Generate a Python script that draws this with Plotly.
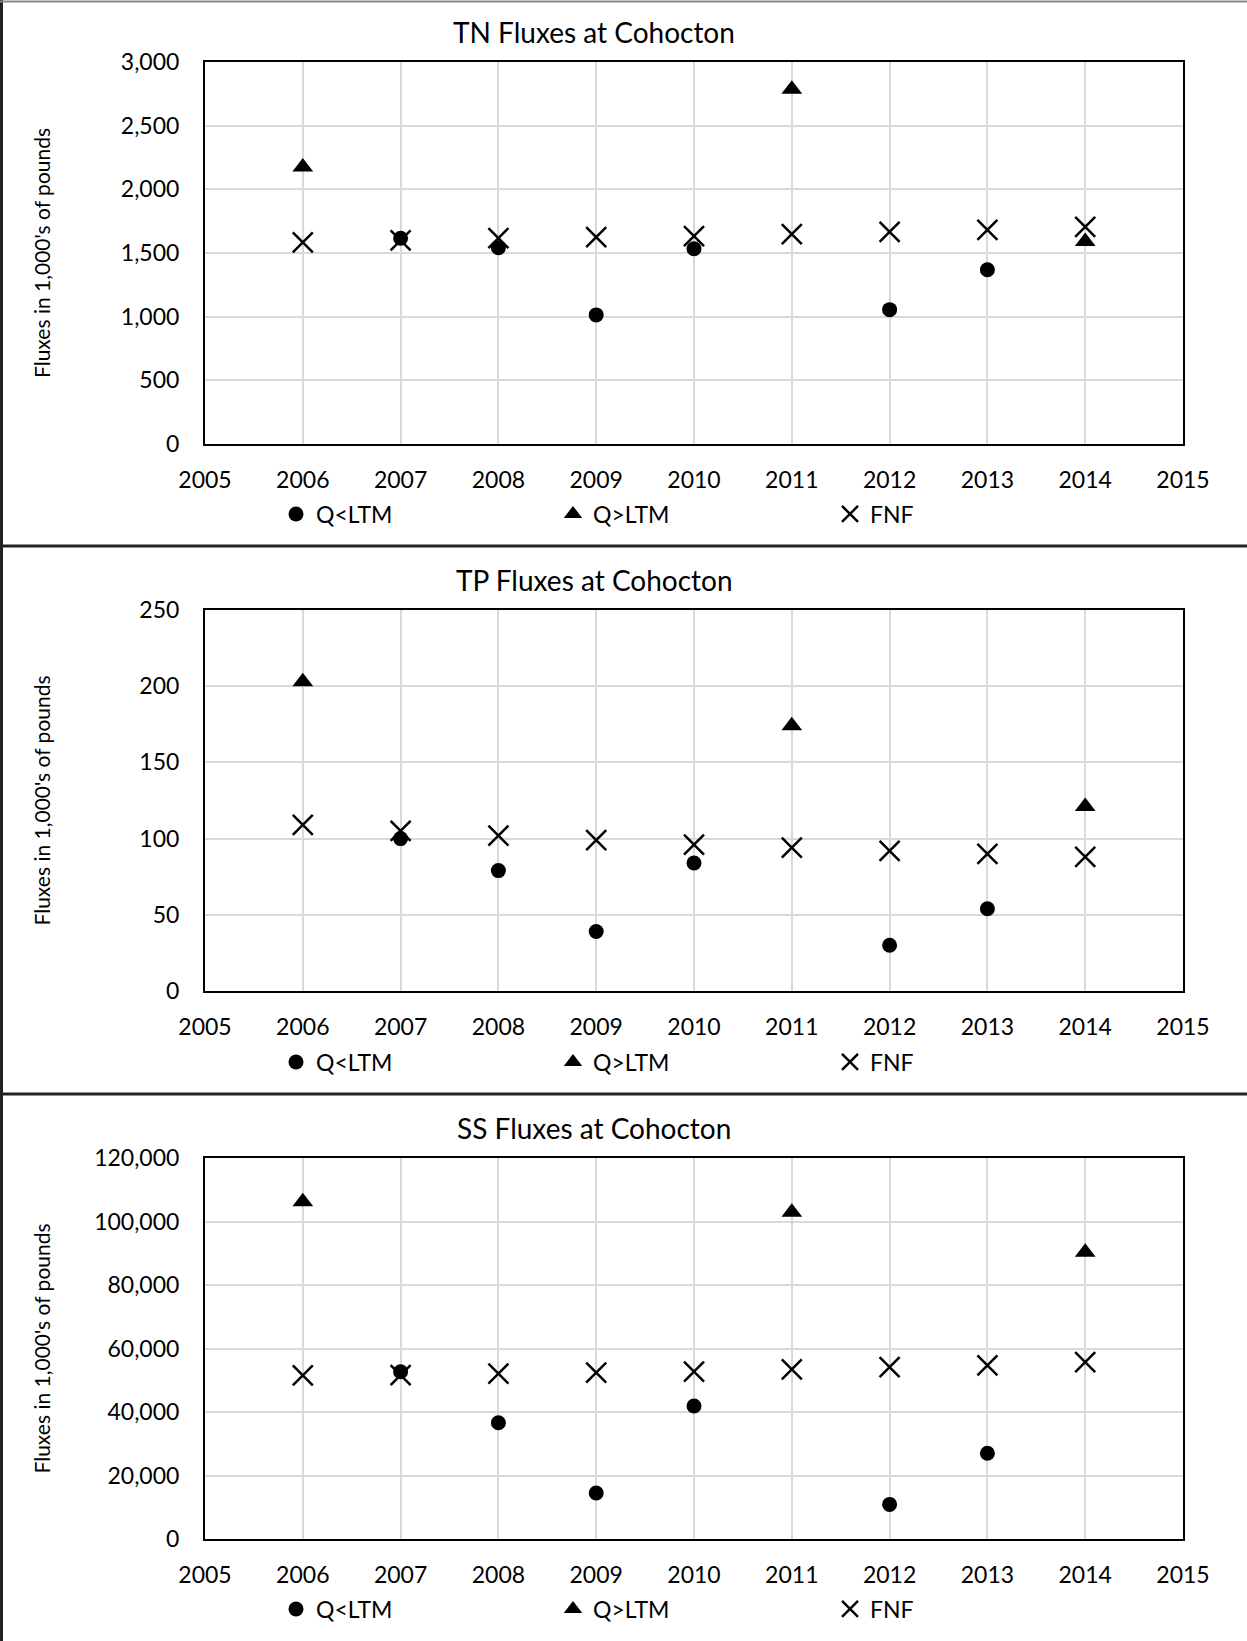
import plotly.graph_objects as go

# data
years = [2006, 2007, 2008, 2009, 2010, 2011, 2012, 2013, 2014]

low_years = [2007, 2008, 2009, 2010, 2012, 2013]
high_years = [2006, 2011, 2014]

tn_low = [1616, 1542, 1014, 1533, 1055, 1368]
tn_high = [2176, 2786, 1591]
tn_fnf = [1583, 1599, 1616, 1624, 1632, 1649, 1665, 1682, 1706]

tp_low = [100, 79, 39, 84, 30, 54]
tp_high = [203, 174, 121]
tp_fnf = [109, 105, 102, 99, 96, 94, 92, 90, 88]

ss_low = [52700, 36600, 14500, 41900, 10900, 27000]
ss_high = [106200, 102900, 90300]
ss_fnf = [51500, 51600, 52100, 52400, 52700, 53400, 54100, 54700, 55700]

titles = ['TN Fluxes at Cohocton', 'TP Fluxes at Cohocton', 'SS Fluxes at Cohocton']
y_ranges = [[0, 3000], [0, 250], [0, 120000]]
y_dticks = [500, 50, 20000]
y_title = "Fluxes in 1,000's of pounds"

W, H = 1247, 1641
FONT = 'Lato'

def px(y):
    return 1 - y / H

# plot areas in pixels (top, bottom) per panel
plot_rows = [(62, 444), (610, 991), (1158, 1539)]
title_y = [32, 580, 1128]
legend_y = [514, 1062, 1609]
x_left, x_right = 205, 1183

fig = go.Figure()
panels = [(tn_low, tn_high, tn_fnf), (tp_low, tp_high, tp_fnf), (ss_low, ss_high, ss_fnf)]

for i, (low, high, fnf) in enumerate(panels):
    n = '' if i == 0 else str(i + 1)
    leg = 'legend' + n
    xa, ya = 'x' + n, 'y' + n
    fig.add_trace(go.Scatter(x=low_years, y=low, mode='markers', name='Q<LTM',
                             xaxis=xa, yaxis=ya, legend=leg,
                             marker=dict(symbol='circle', size=15, color='black')))
    fig.add_trace(go.Scatter(x=high_years, y=high, mode='markers', name='Q>LTM',
                             xaxis=xa, yaxis=ya, legend=leg,
                             marker=dict(symbol='triangle-up', size=18, color='black')))
    fig.add_trace(go.Scatter(x=years, y=fnf, mode='markers', name='FNF',
                             xaxis=xa, yaxis=ya, legend=leg,
                             marker=dict(symbol='x-thin', size=20, color='black',
                                         line=dict(width=2.5, color='black'))))

    top, bot = plot_rows[i]
    axis_common = dict(showline=True, mirror=True, linecolor='black', linewidth=2,
                       showgrid=True, gridcolor='#d9d9d9', gridwidth=1.5,
                       zeroline=False, ticks='', automargin=False,
                       tickfont=dict(family=FONT, size=23, color='black'))
    fig.update_layout({
        'xaxis' + n: dict(axis_common, domain=[x_left / W, x_right / W], range=[2005, 2015],
                          dtick=1, tick0=2005, anchor=ya, ticklabelstandoff=14),
        'yaxis' + n: dict(axis_common, domain=[px(bot), px(top)], range=y_ranges[i],
                          dtick=y_dticks[i], tickformat=',d', anchor=xa,
                          ticklabelstandoff=19),
        leg: dict(orientation='h', x=(300 - 24) / W, xanchor='left', y=px(legend_y[i]),
                  yanchor='middle', entrywidth=232, entrywidthmode='pixels', itemwidth=30,
                  font=dict(family=FONT, size=23, color='black'), bgcolor='rgba(0,0,0,0)'),
    })

    fig.add_annotation(text=titles[i], xref='paper', yref='paper', x=594 / W, y=px(title_y[i]),
                       showarrow=False, xanchor='center', yanchor='middle',
                       font=dict(family=FONT, size=28, color='black'))
    fig.add_annotation(text=y_title, xref='paper', yref='paper', x=41 / W, y=px((top + bot) / 2),
                       showarrow=False, textangle=-90, xanchor='center', yanchor='middle',
                       font=dict(family=FONT, size=21, color='black'))

# outer frame and separators between the three charts
shapes = [
    dict(type='line', xref='paper', yref='paper', x0=1.5 / W, x1=1.5 / W, y0=0, y1=1,
         line=dict(color='#222222', width=3)),
    dict(type='line', xref='paper', yref='paper', x0=0, x1=1, y0=px(1.5), y1=px(1.5),
         line=dict(color='#888888', width=2)),
    dict(type='line', xref='paper', yref='paper', x0=0, x1=1, y0=px(546), y1=px(546),
         line=dict(color='#222222', width=3)),
    dict(type='line', xref='paper', yref='paper', x0=0, x1=1, y0=px(1094), y1=px(1094),
         line=dict(color='#222222', width=3)),
]

fig.update_layout(width=W, height=H,
                  margin=dict(l=0, r=0, t=0, b=0, pad=0, autoexpand=False),
                  plot_bgcolor='white', paper_bgcolor='white', shapes=shapes,
                  font=dict(family=FONT, color='black'))

# drop the default 8px body margin of the page so the figure starts at the corner
fig.write_html('out.html', config={'displayModeBar': False},
               post_script="document.body.style.margin='0';")
